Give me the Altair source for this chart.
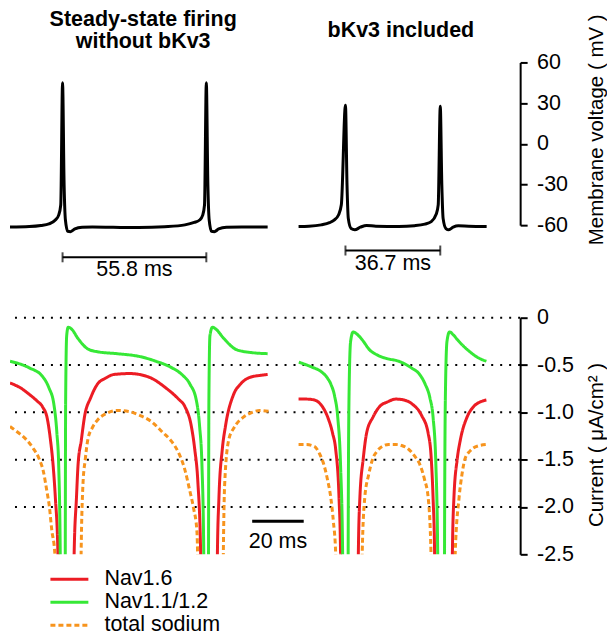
import altair as alt
import pandas as pd

FONT = "Liberation Sans"

# ---------------- Top panel: membrane voltage (time in ms, voltage in mV)
V_LEFT_T = [0, 7.5, 12, 15.1, 17.6, 18.9, 19.7, 20.4, 21.0, 21.5, 22.4, 23.5, 25.2, 28, 32, 40, 50, 60,
            67.9, 71.5, 73.6, 74.8, 75.5, 76.2, 76.8, 77.3, 78.2, 79.3, 81, 84, 90, 100]
V_LEFT_V = [-61.4, -61.0, -60.2, -59.1, -56.2, -52.6, -45, 45, -30, -56, -64.5, -64.8, -62.8, -61.6, -61.4,
            -61.6, -61.8, -61.2, -59.8, -58.0, -56.2, -52.6, -45, 45, -30, -56, -64.5, -64.8, -62.8, -61.6,
            -61.4, -61.4]
V_RIGHT_T = [112, 116, 120.8, 124, 125.8, 127.5, 128.6, 130.2, 130.8, 131.3, 132.4, 133.8, 136, 138.4, 142,
             150.9, 157, 161, 163.5, 165.4, 166.2, 167.0, 167.6, 168.1, 169.2, 170.3, 172, 174, 178, 185]
V_RIGHT_V = [-61.0, -60.8, -59.8, -58.2, -56.2, -52.5, -45, 28.5, -30, -55, -62.5, -63.4, -61.5, -60.2,
             -60.8, -61.0, -60.4, -59.2, -57.4, -52, -45, 27.7, -30, -55, -62.5, -63.4, -61.5, -60.5,
             -60.8, -61.0]

PANEL_TITLES = ["Steady-state firing", "without bKv3", "bKv3 included"]
TITLE_T = [51.7, 51.7, 151.7]
TITLE_V = [91.6, 75.1, 83.0]

ISI_START = [20.4, 130.2]
ISI_END = [76.2, 167.0]
ISI_V = [-83.7, -78.7]
ISI_LABELS = ["55.8 ms", "36.7 ms"]
ISI_LABEL_V = [-93.1, -88.8]

V_TICKS = [-60, -30, 0, 30, 60]

# ---------------- Bottom panel: sodium currents (time in ms, current in uA/cm2)
SERIES = ["Nav1.6", "Nav1.1/1.2", "total sodium"]
COLORS = ["#ec1c24", "#36e836", "#f7941d"]
DASHES = [[1, 0], [1, 0], [5, 3]]

NAV16_L_T = [0, 4, 7.5, 10.5, 12.6, 14.5, 15.7, 16.8, 17.6, 18.6, 19.0, 24.5, 24.9, 25.8, 26.4, 27.7, 28.9,
             31.4, 34.0, 37, 40.3, 46.5, 54.1, 60.4, 65.4, 67.9, 70.4, 71.7, 72.9, 74.0, 74.4, 80.1, 80.5,
             81.1, 82.4, 83.6, 86.8, 89.5, 93.1, 97, 100]
NAV16_L_I = [-0.69, -0.74, -0.81, -0.88, -0.94, -1.07, -1.29, -1.58, -1.90, -2.49, -4, -4, -2.49, -1.90,
             -1.56, -1.29, -1.05, -0.84, -0.70, -0.64, -0.60, -0.59, -0.63, -0.74, -0.86, -0.94, -1.15,
             -1.39, -1.73, -2.49, -4, -4, -2.49, -1.90, -1.39, -1.15, -0.81, -0.70, -0.63, -0.61, -0.60]
NAV16_R_T = [112.0, 115, 118.2, 121, 123.3, 125.2, 126.4, 127.7, 128.3, 128.7, 134.8, 135.2, 135.8, 137.1,
             138.4, 140.9, 143.4, 146.5, 149.7, 153, 156.0, 159.7, 162.3, 163.5, 164.2, 164.8, 165.2, 171.3,
             171.7, 172.3, 173.6, 174.8, 177.4, 179.9, 182.5, 184.9]
NAV16_R_I = [-0.86, -0.86, -0.87, -0.93, -1.05, -1.22, -1.39, -1.90, -2.49, -4, -4, -2.49, -1.90, -1.49,
             -1.22, -1.05, -0.94, -0.89, -0.86, -0.87, -0.91, -1.03, -1.22, -1.49, -1.90, -2.49, -4, -4,
             -2.49, -1.90, -1.49, -1.29, -1.05, -0.94, -0.89, -0.87]

NAV11_L_T = [0, 7.5, 12.6, 15.1, 17.0, 18.2, 18.9, 19.5, 19.9, 21.3, 21.6, 22.0, 22.6, 23.9, 26.4, 30.2,
             34.0, 41.5, 50.3, 56.6, 62.9, 66.7, 69.8, 72.3, 73.6, 74.5, 75.2, 75.6, 76.9, 77.2, 77.6, 78.6,
             79.9, 83.0, 88.1, 94.3, 100]
NAV11_L_I = [-0.46, -0.53, -0.62, -0.74, -0.91, -1.22, -1.56, -2.49, -4, -4, -0.87, -0.19, -0.10, -0.12,
             -0.22, -0.33, -0.36, -0.38, -0.41, -0.46, -0.53, -0.60, -0.70, -0.87, -1.15, -1.56, -2.49, -4,
             -4, -0.87, -0.19, -0.10, -0.12, -0.22, -0.34, -0.37, -0.38]
NAV11_R_T = [112.1, 113.2, 117, 120.8, 123, 124.5, 126, 127.2, 128.3, 129.1, 129.5, 131.1, 131.3, 131.6,
             132.2, 133.2, 134.5, 136.6, 139.6, 143, 146.0, 150.9, 155.8, 159, 161.1, 163, 164.2, 165.3,
             166.0, 166.4, 168.5, 168.7, 169.0, 169.6, 170.6, 172, 173.6, 176, 178.5, 181.5, 184.9]
NAV11_R_I = [-0.47, -0.48, -0.52, -0.57, -0.63, -0.70, -0.83, -1.05, -1.56, -2.49, -4, -4, -2.0, -0.8,
             -0.25, -0.15, -0.17, -0.23, -0.34, -0.40, -0.43, -0.46, -0.53, -0.60, -0.70, -0.85, -1.05,
             -1.56, -2.49, -4, -4, -2.0, -0.8, -0.25, -0.15, -0.18, -0.23, -0.30, -0.36, -0.42, -0.46]

TOTAL_L_T = [0, 3, 6.4, 9, 11.3, 13, 14.3, 15.3, 16.2, 17.4, 17.8, 27.0, 27.6, 28.3, 29.2, 30.2, 32, 34.0,
             37.5, 41.5, 46, 50.2, 55, 59.2, 62.5, 65.3, 67.8, 69.8, 71.3, 72.5, 72.8, 73.2, 82.3, 82.8,
             83.3, 84.9, 87, 90.6, 94, 97.0, 100.5]
TOTAL_L_I = [-1.15, -1.21, -1.29, -1.38, -1.49, -1.63, -1.83, -2.0, -2.24, -2.49, -4, -4, -2.49, -1.77,
             -1.50, -1.29, -1.16, -1.08, -1.01, -0.98, -0.99, -1.03, -1.10, -1.21, -1.30, -1.42, -1.60,
             -1.83, -2.02, -2.24, -2.49, -4, -4, -2.49, -1.77, -1.29, -1.16, -1.05, -1.0, -0.98, -0.99]
TOTAL_R_T = [112.0, 115, 118.1, 120.2, 121.9, 123.3, 124.5, 125.5, 126.4, 126.8, 136.3, 136.7, 137.7, 139.2,
             140.8, 142.5, 144.5, 147, 149.8, 152, 154.7, 157, 159.2, 160.9, 162.3, 163.4, 163.8, 172.4,
             172.8, 174.3, 175.4, 176.6, 178.5, 181.1, 184.9]
TOTAL_R_I = [-1.34, -1.34, -1.36, -1.44, -1.56, -1.72, -1.90, -2.15, -2.49, -4, -4, -2.49, -1.90, -1.66,
             -1.49, -1.41, -1.36, -1.34, -1.34, -1.35, -1.39, -1.46, -1.56, -1.71, -1.90, -2.49, -4, -4,
             -2.49, -1.90, -1.66, -1.49, -1.41, -1.36, -1.34]

I_TICKS = [0, -0.5, -1.0, -1.5, -2.0, -2.5]
I_GRID = [0, -0.5, -1.0, -1.5, -2.0]

SCALEBAR_T = [94.0]
SCALEBAR_T2 = [114.0]
SCALEBAR_I = [-2.15]
SCALEBAR_LABEL = ["20 ms"]
SCALEBAR_LABEL_I = [-2.37]

X_DOMAIN = [0, 198]

# ---------------- tables
df_v = pd.concat([
    pd.DataFrame({"t": V_LEFT_T, "v": V_LEFT_V, "seg": "left"}),
    pd.DataFrame({"t": V_RIGHT_T, "v": V_RIGHT_V, "seg": "right"}),
])
df_titles = pd.DataFrame({"t": TITLE_T, "v": TITLE_V, "label": PANEL_TITLES})
df_isi = pd.DataFrame({"t": ISI_START, "t2": ISI_END, "v": ISI_V, "label": ISI_LABELS,
                       "lv": ISI_LABEL_V})
df_isi_ends = pd.DataFrame({"t": ISI_START + ISI_END, "v": ISI_V + ISI_V})

rows = []
for name, seg, ts, vs in [
    (SERIES[0], "left", NAV16_L_T, NAV16_L_I), (SERIES[0], "right", NAV16_R_T, NAV16_R_I),
    (SERIES[1], "left", NAV11_L_T, NAV11_L_I), (SERIES[1], "right", NAV11_R_T, NAV11_R_I),
    (SERIES[2], "left", TOTAL_L_T, TOTAL_L_I), (SERIES[2], "right", TOTAL_R_T, TOTAL_R_I),
]:
    rows.append(pd.DataFrame({"t": ts, "i": vs, "series": name, "seg": seg}))
df_i = pd.concat(rows)
df_grid = pd.DataFrame({"i": I_GRID})
df_bar = pd.DataFrame({"t": SCALEBAR_T, "t2": SCALEBAR_T2, "i": SCALEBAR_I,
                       "label": SCALEBAR_LABEL, "li": SCALEBAR_LABEL_I})

W = 511
xscale = alt.Scale(domain=X_DOMAIN, nice=False, zero=False)

# ---------------- top panel
X_top = alt.X("t:Q", scale=xscale, axis=None)
Y_top = alt.Y("v:Q", scale=alt.Scale(domain=[-60, 60], nice=False, zero=False),
              axis=alt.Axis(orient="right", values=V_TICKS, grid=False,
                            labelExpr="datum.value < 0 ? '-' + format(-datum.value, 'd') : format(datum.value, 'd')",
                            title="Membrane voltage ( mV )", titleAngle=270, titleX=76, titleY=67,
                            titleAlign="center", titleBaseline="middle"))

v_line = alt.Chart(df_v).mark_line(color="black", strokeWidth=3, strokeJoin="round",
                                   interpolate="monotone").encode(x=X_top, y=Y_top, detail="seg:N")
isi_rule = alt.Chart(df_isi).mark_rule(color="black", strokeWidth=2, strokeJoin="round").encode(
    x=X_top, x2="t2:Q", y=Y_top)
isi_ends = alt.Chart(df_isi_ends).mark_tick(color="black", orient="vertical", size=10, thickness=2).encode(
    x=X_top, y=Y_top)
isi_text = alt.Chart(df_isi).transform_calculate(
    mid="(datum.t + datum.t2) / 2").mark_text(fontSize=21.5, font=FONT, color="black",
                                              baseline="middle", align="center").encode(
    x=alt.X("mid:Q", scale=xscale, axis=None),
    y=alt.Y("lv:Q", scale=alt.Scale(domain=[-60, 60], nice=False, zero=False)),
    text="label:N")
titles = alt.Chart(df_titles).mark_text(fontSize=21.5, font=FONT, fontWeight="bold", color="black",
                                        baseline="middle", align="center").encode(
    x=X_top, y=Y_top, text="label:N")

top = alt.layer(v_line, isi_rule, isi_ends, isi_text, titles).properties(width=W, height=163)

# ---------------- bottom panel
X_bot = alt.X("t:Q", scale=xscale, axis=None)
Y_bot = alt.Y("i:Q", scale=alt.Scale(domain=[-2.5, 0], nice=False, zero=False),
              axis=alt.Axis(orient="right", values=I_TICKS, grid=False,
                            labelExpr="datum.value == 0 ? '0' : '-' + format(-datum.value, '.1f')",
                            title="Current ( μA/cm² )", titleAngle=270, titleX=76, titleY=127,
                            titleAlign="center", titleBaseline="middle"))

legend = alt.Legend(title=None, orient="none", legendX=39, legendY=507, symbolType="stroke",
                    symbolSize=1444, symbolStrokeWidth=3, labelFontSize=21.5, labelFont=FONT,
                    labelColor="black", labelOffset=14.6, rowPadding=0, clipHeight=21.5, padding=0)
color = alt.Color("series:N", scale=alt.Scale(domain=SERIES, range=COLORS), legend=legend)
dash = alt.StrokeDash("series:N", scale=alt.Scale(domain=SERIES, range=DASHES), legend=legend)

grid = alt.Chart(df_grid).mark_rule(color="black", strokeWidth=2, strokeDash=[2, 7],
                                    strokeJoin="round").encode(y=Y_bot)


def current_layer(name):
    return alt.Chart(df_i).transform_filter(alt.datum.series == name).mark_line(
        strokeWidth=3, strokeJoin="round", interpolate="monotone", clip=True).encode(
        x=X_bot, y=Y_bot, color=color, strokeDash=dash, detail="seg:N")


bar = alt.Chart(df_bar).mark_rule(color="black", strokeWidth=3, strokeJoin="round").encode(
    x=X_bot, x2="t2:Q", y=Y_bot)
bar_text = alt.Chart(df_bar).transform_calculate(mid="(datum.t + datum.t2) / 2").mark_text(
    fontSize=21.5, font=FONT, color="black", baseline="middle", align="center").encode(
    x=alt.X("mid:Q", scale=xscale, axis=None),
    y=alt.Y("li:Q", scale=alt.Scale(domain=[-2.5, 0], nice=False, zero=False)),
    text="label:N")

bottom = alt.layer(grid, current_layer(SERIES[2]), current_layer(SERIES[0]), current_layer(SERIES[1]),
                   bar, bar_text).properties(width=W, height=237)

chart = alt.vconcat(top, bottom, spacing=92.7, bounds="flush").properties(
    padding={"left": 0, "top": 0, "right": 0, "bottom": 0},
    autosize=alt.AutoSizeParams(type="pad")).configure(
    font=FONT, padding={"left": 0, "top": 0, "right": 0, "bottom": 0}).configure_view(
    strokeWidth=0).configure_axis(
    domainColor="black", domainWidth=2, tickColor="black", tickWidth=2, tickSize=7,
    labelFontSize=21.5, labelColor="black", labelFont=FONT, labelPadding=9.4,
    titleFont=FONT, titleFontSize=20.5, titleFontWeight="normal", titleColor="black")

chart.save("out.html", embed_options={"renderer": "svg", "actions": False})
